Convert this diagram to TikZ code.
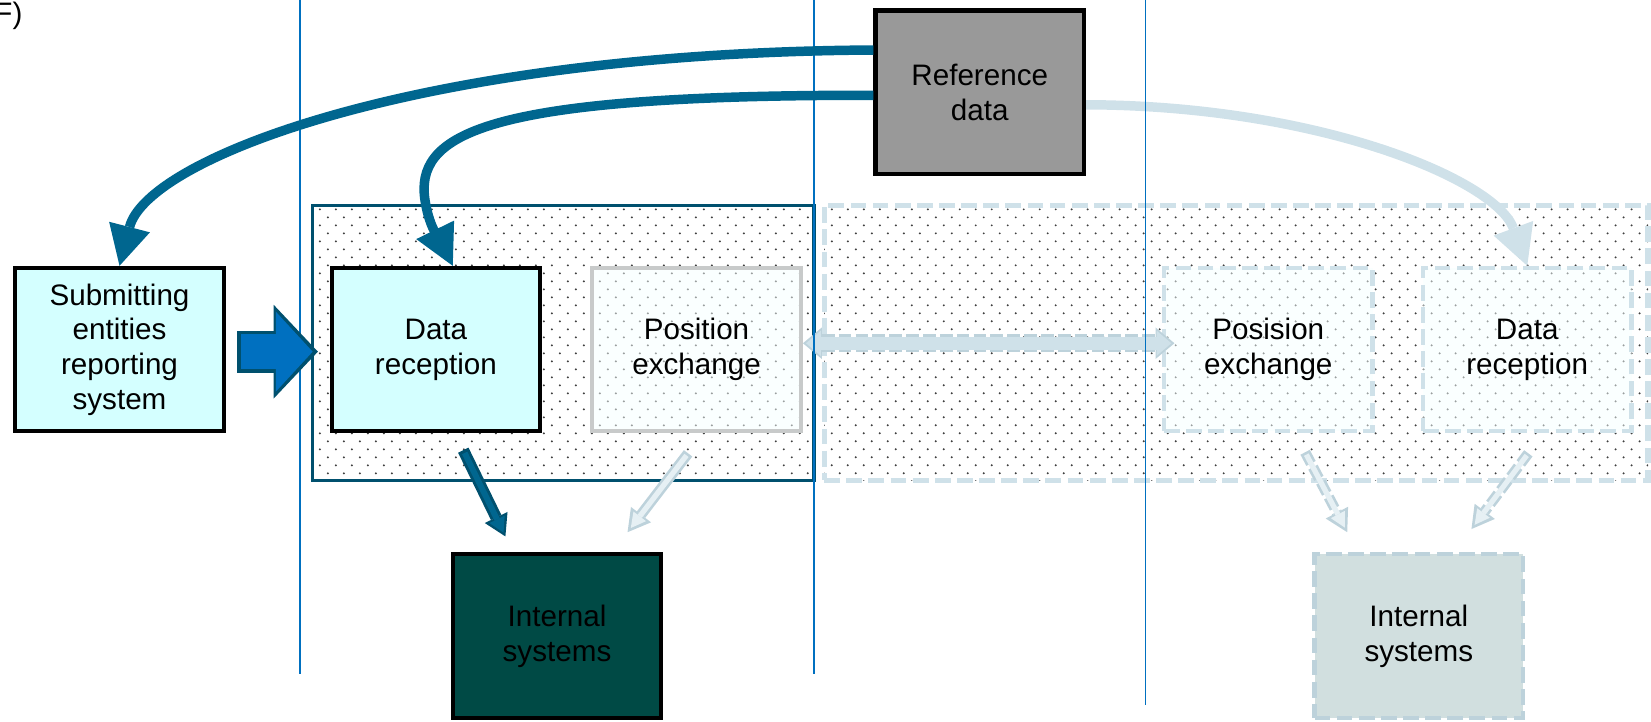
\documentclass[tikz,border=0pt]{standalone}
\usepackage{fontspec}
\setmainfont{Liberation Sans}
\usetikzlibrary{arrows.meta,patterns,calc}
\pgfdeclarepatternformonly{sparsedots}{\pgfqpoint{-0.4pt}{-0.4pt}}{\pgfqpoint{4.72pt}{4.72pt}}{\pgfqpoint{4.32pt}{4.32pt}}{
  \pgfpathcircle{\pgfqpoint{0pt}{0pt}}{0.3pt}
  \pgfpathcircle{\pgfqpoint{2.16pt}{2.16pt}}{0.3pt}
  \pgfusepath{fill}}
\definecolor{boxcyan}{HTML}{D4FFFF}
\definecolor{refgray}{HTML}{999999}
\definecolor{intdark}{HTML}{004A45}
\definecolor{intlight}{HTML}{D1DFDF}
\definecolor{flowblue}{HTML}{00668F}
\definecolor{framedark}{HTML}{00506E}
\definecolor{ghost}{HTML}{CFE1E9}
\definecolor{ghostedge}{HTML}{BDD2DB}
\definecolor{ghostcore}{HTML}{E6F0F4}
\definecolor{ghostfill}{HTML}{F5FFFF}
\definecolor{laneblue}{HTML}{0070C0}
\definecolor{greyline}{HTML}{C8CACA}
\tikzset{
  every node/.style={font=\fontsize{8}{9.4}\selectfont, align=center},
  block/.style={rectangle, draw=black, line width=0.4mm, minimum width=1.98cm, minimum height=1.55cm, inner sep=0pt},
  ghostblock/.style={block, draw=ghost, dash pattern=on 1.5mm off 0.6mm, fill=ghostfill, fill opacity=0.5, text opacity=1},
  frame/.style={rectangle, pattern=sparsedots, pattern color=black!75, minimum height=2.61cm, inner sep=0pt},
  lane/.style={draw=laneblue, line width=0.15mm},
  flow/.style={draw=flowblue, line width=0.9mm, -{Triangle[length=3.8mm,width=4.0mm,line width=0pt]}},
}

\begin{document}
\begin{tikzpicture}[x=0.01cm,y=-0.01cm]
\useasboundingbox (0,0) rectangle (1568,685);
\node[anchor=base east, inner sep=0pt] (tag) at (22,22) {F)};
\node[frame, draw=framedark, line width=0.3mm, minimum width=4.76cm] (mainframe) at (535,325.5) {};
\node[frame, draw=ghost, line width=0.5mm, dash pattern=on 1.5mm off 0.6mm, minimum width=7.82cm] (ghostframe) at (1174,325.5) {};
\node[block, fill=boxcyan] (submit) at (113.5,332) {Submitting\\entities\\reporting\\system};
\node[block, fill=boxcyan] (recv) at (414,332) {Data\\reception};
\node[block, draw=greyline, fill=ghostfill, fill opacity=0.5, text opacity=1] (posx) at (661.5,332) {Position\\exchange};
\node[ghostblock] (posx2) at (1204.5,332) {Posision\\exchange};
\node[ghostblock] (recv2) at (1450.5,332) {Data\\reception};
\node[block, fill=refgray] (ref) at (930.5,87.5) {Reference\\data};
\node[block, fill=intdark] (intsys) at (529,604) {Internal\\systems};
\node[block, draw=ghostedge, dash pattern=on 1.5mm off 0.6mm, fill=intlight] (intsys2) at (1347.5,604) {Internal\\systems};
\draw[draw=ghostedge, line width=1.7mm, dash pattern=on 1.2mm off 0.4mm, {Triangle[length=1.8mm,width=3.0mm,line width=0pt]}-{Triangle[length=1.8mm,width=3.0mm,line width=0pt]}] ($(posx.east)+(0,-6)$) -- ($(posx2.west)+(12,-6)$);
\draw[draw=ghost, line width=1.2mm, {Triangle[length=1.4mm,width=2.4mm,line width=0pt]}-{Triangle[length=1.4mm,width=2.4mm,line width=0pt]}, shorten <=0.3mm, shorten >=0.3mm] ($(posx.east)+(0,-6)$) -- ($(posx2.west)+(12,-6)$);
\draw[draw=ghostedge, line width=1.0mm, -{Triangle[length=2.1mm,width=2.4mm,line width=0pt]}] ($(posx.south)+(-8,19)$) -- ($(intsys.north)+(67,-19)$);
\draw[draw=ghostcore, line width=0.5mm, -{Triangle[length=1.4mm,width=1.5mm,line width=0pt]}, shorten <=0.25mm, shorten >=0.5mm] ($(posx.south)+(-8,19)$) -- ($(intsys.north)+(67,-19)$);
\draw[draw=ghostedge, line width=1.0mm, dash pattern=on 1.2mm off 0.4mm, -{Triangle[length=2.1mm,width=2.4mm,line width=0pt]}] ($(posx2.south)+(35,18)$) -- ($(intsys2.north)+(-68,-19)$);
\draw[draw=ghostcore, line width=0.5mm, -{Triangle[length=1.4mm,width=1.5mm,line width=0pt]}, shorten <=0.25mm, shorten >=0.5mm] ($(posx2.south)+(35,18)$) -- ($(intsys2.north)+(-68,-19)$);
\draw[draw=ghostedge, line width=1.0mm, dash pattern=on 1.2mm off 0.4mm, -{Triangle[length=2.1mm,width=2.4mm,line width=0pt]}] ($(recv2.south)+(1,19)$) -- ($(intsys2.north)+(50,-22)$);
\draw[draw=ghostcore, line width=0.5mm, -{Triangle[length=1.4mm,width=1.5mm,line width=0pt]}, shorten <=0.25mm, shorten >=0.5mm] ($(recv2.south)+(1,19)$) -- ($(intsys2.north)+(50,-22)$);
\draw[draw=ghost, line width=0.9mm, -{Triangle[length=3.8mm,width=4.0mm,line width=0pt]}] ($(ref.east)+(0,12)$) .. controls (1250,100) and (1420,170) .. (recv2.north);
\draw[lane] (285,0) -- (285,640);
\draw[lane] (773,0) -- (773,640);
\draw[lane] (1088,0) -- (1088,670);
\draw[draw=framedark, line width=4.0mm, -{Triangle[length=4.2mm,width=8.9mm,line width=0pt]}] ($(submit.east)+(11,2)$) -- ($(recv.west)+(-11,2)$);
\draw[draw=laneblue, line width=3.3mm, -{Triangle[length=3.5mm,width=7.6mm,line width=0pt]}, shorten <=0.35mm, shorten >=0.5mm] ($(submit.east)+(11,2)$) -- ($(recv.west)+(-11,2)$);
\draw[draw=framedark, line width=1.1mm, -{Triangle[length=2.0mm,width=2.4mm,line width=0pt]}] ($(recv.south)+(26,16)$) -- ($(intsys.north)+(-49,-15)$);
\draw[draw=flowblue, line width=0.55mm, -{Triangle[length=1.4mm,width=1.6mm,line width=0pt]}, shorten <=0.3mm, shorten >=0.4mm] ($(recv.south)+(26,16)$) -- ($(intsys.north)+(-49,-15)$);
\draw[flow] ($(ref.west)+(0,-40)$) .. controls (400,50) and (140,150) .. (submit.north);
\draw[flow] ($(ref.west)+(0,3)$) .. controls (470,90) and (398,125) .. (403,185) .. controls (406,215) and (420,232) .. ($(recv.north)+(16,0)$);
\end{tikzpicture}
\end{document}
